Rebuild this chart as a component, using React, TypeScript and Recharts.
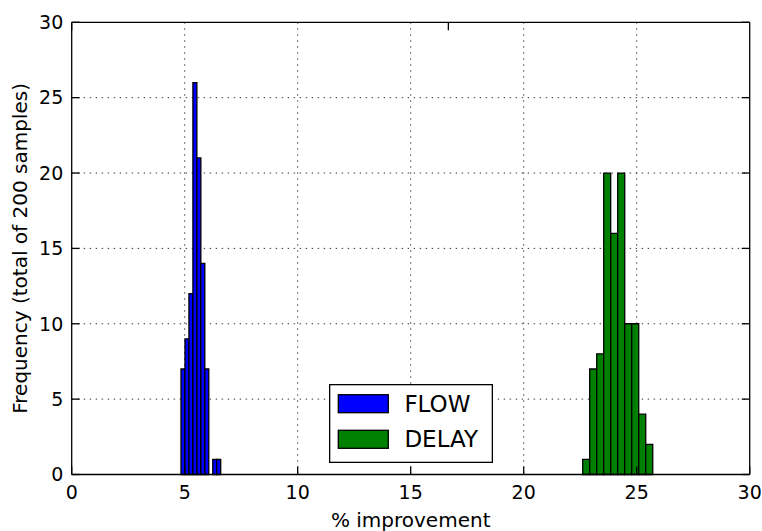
import React from "react";
import {
  ComposedChart,
  XAxis,
  YAxis,
  CartesianGrid,
  ReferenceArea,
  Legend,
} from "recharts";

const xTicks = [0, 5, 10, 15, 20, 25, 30];
const yTicks = [0, 5, 10, 15, 20, 25, 30];

const flowCounts = [7, 9, 12, 26, 21, 14, 7, 0, 1, 1];
const flowRange = [4.836, 6.593];
const delayCounts = [1, 7, 8, 20, 16, 20, 10, 10, 4, 2];
const delayRange = [22.61, 25.71];

const seriesNames = ["FLOW", "DELAY"];
const seriesColors = ["#0000ff", "#008000"];

function makeBins(counts: number[], range: number[]) {
  const w = (range[1] - range[0]) / counts.length;
  return counts.map((c, i) => ({
    x1: range[0] + i * w,
    x2: range[0] + (i + 1) * w,
    count: c,
  }));
}

const flowBins = makeBins(flowCounts, flowRange);
const delayBins = makeBins(delayCounts, delayRange);

const FONT = "'DejaVu Sans', sans-serif";

const tickStyle = { fontFamily: FONT, fontSize: 19, fill: "#000" };
const lineStyle = { stroke: "#000", strokeWidth: 1.3 };

const LegendBox = () => (
  <svg width={164} height={79} style={{ display: "block", background: "#fff" }}>
    <rect x={0.65} y={0.65} width={162.7} height={77.7} fill="#fff" stroke="#000" strokeWidth={1.3} />
    {seriesNames.map((name, i) => (
      <g key={name}>
        <rect
          x={9.3}
          y={10.7 + i * 35.6}
          width={50}
          height={18}
          fill={seriesColors[i]}
          stroke="#000"
          strokeWidth={1.3}
        />
        <text
          x={75.4}
          y={27.7 + i * 35}
          fontFamily={FONT}
          fontSize={23}
          fill="#000"
        >
          {name}
        </text>
      </g>
    ))}
  </svg>
);

const NoTick = () => <g />;

export default function App() {
  return (
    <div style={{ position: "absolute", left: 0, top: 0, width: 762, height: 531, background: "#fff", fontFamily: FONT }}>
      <ComposedChart
        width={762}
        height={531}
        data={flowBins}
        margin={{ top: 21.3, right: 11.3, left: 0, bottom: 0 }}
      >
        <XAxis
          xAxisId={0}
          type="number"
          dataKey="x1"
          domain={[0, 30]}
          ticks={xTicks}
          allowDataOverflow
          height={56.5}
          tick={tickStyle}
          tickSize={-8}
          tickMargin={18.9}
          axisLine={lineStyle}
          tickLine={lineStyle}
          label={{
            content: (p: any) => {
              const vb = p.viewBox;
              return (
                <text
                  x={vb.x + vb.width / 2}
                  y={vb.y + 52}
                  textAnchor="middle"
                  fontFamily={FONT}
                  fontSize={20}
                  fill="#000"
                >
                  % improvement
                </text>
              );
            },
          }}
        />
        <XAxis
          xAxisId="top"
          orientation="top"
          type="number"
          domain={[0, 30]}
          ticks={xTicks}
          allowDataOverflow
          height={1}
          tick={NoTick}
          tickSize={-8}
          axisLine={lineStyle}
          tickLine={lineStyle}
        />
        <YAxis
          yAxisId={0}
          type="number"
          domain={[0, 30]}
          ticks={yTicks}
          allowDataOverflow
          width={71.7}
          tick={tickStyle}
          tickSize={-8}
          tickMargin={16.4}
          axisLine={lineStyle}
          tickLine={lineStyle}
          label={{
            content: (p: any) => {
              const vb = p.viewBox;
              const cx = 27.3;
              const cy = vb.y + vb.height / 2;
              return (
                <text
                  x={cx}
                  y={cy}
                  transform={`rotate(-90, ${cx}, ${cy})`}
                  textAnchor="middle"
                  fontFamily={FONT}
                  fontSize={20}
                  fill="#000"
                >
                  Frequency (total of 200 samples)
                </text>
              );
            },
          }}
        />
        <YAxis
          yAxisId="right"
          orientation="right"
          type="number"
          domain={[0, 30]}
          ticks={yTicks}
          allowDataOverflow
          width={1}
          tick={NoTick}
          tickSize={-8}
          axisLine={lineStyle}
          tickLine={lineStyle}
        />
        {flowBins
          .filter((b) => b.count > 0)
          .map((b, i) => (
            <ReferenceArea
              key={`f${i}`}
              xAxisId={0}
              yAxisId={0}
              x1={b.x1}
              x2={b.x2}
              y1={0}
              y2={b.count}
              fill={seriesColors[0]}
              fillOpacity={1}
              stroke="#000"
              strokeWidth={1.3}
              strokeOpacity={1}
            />
          ))}
        {delayBins
          .filter((b) => b.count > 0)
          .map((b, i) => (
            <ReferenceArea
              key={`d${i}`}
              xAxisId={0}
              yAxisId={0}
              x1={b.x1}
              x2={b.x2}
              y1={0}
              y2={b.count}
              fill={seriesColors[1]}
              fillOpacity={1}
              stroke="#000"
              strokeWidth={1.3}
              strokeOpacity={1}
            />
          ))}
        <CartesianGrid
          xAxisId={0}
          yAxisId={0}
          stroke="#000"
          strokeWidth={0.8}
          strokeDasharray="1.4 4.6"
          horizontalValues={yTicks.slice(1, -1)}
          verticalValues={xTicks.slice(1, -1)}
        />
        <Legend
          layout="horizontal"
          verticalAlign="middle"
          align="center"
          wrapperStyle={{ left: 329, top: 384, width: 164, height: 79 }}
          content={() => <LegendBox />}
        />
      </ComposedChart>
    </div>
  );
}
